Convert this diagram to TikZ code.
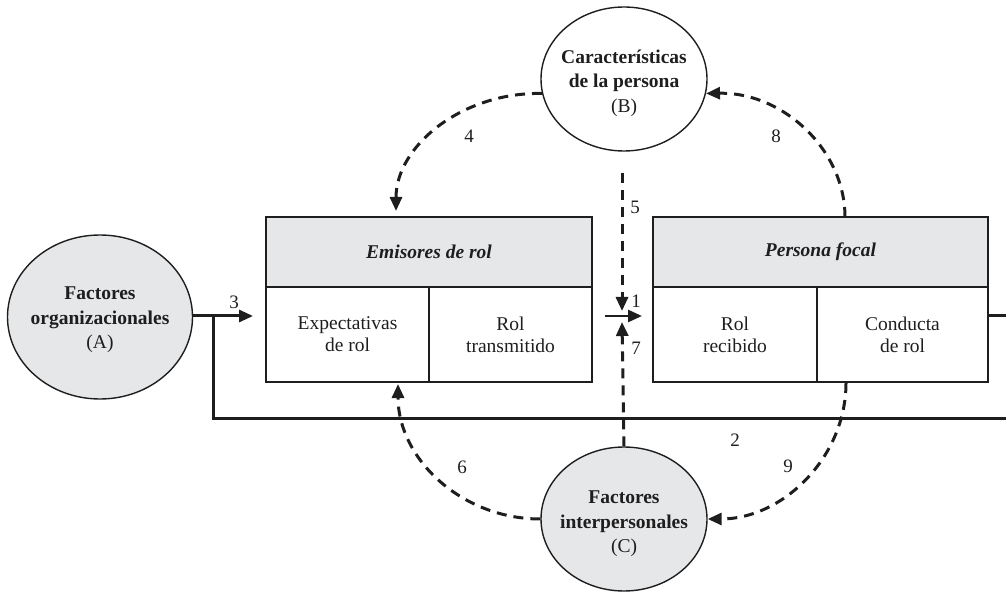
\documentclass[tikz,border=0pt]{standalone}
\usepackage{fontspec}
\setmainfont{Liberation Serif}
\usetikzlibrary{arrows.meta,shapes.geometric}
\definecolor{panel}{RGB}{230,231,233}
\definecolor{ink}{RGB}{30,30,30}
\begin{document}
\begin{tikzpicture}[x=1pt,y=-1pt,
  every node/.style={text=ink},
  oval/.style={ellipse,draw=ink,line width=1.4pt,inner sep=0pt,minimum width=166pt,minimum height=144pt},
  ovaltext/.style={align=center,font=\fontsize{19.5}{24.5}\selectfont},
  header/.style={rectangle,draw=ink,fill=panel,line width=2pt,minimum height=70pt,inner sep=0pt,
    font=\fontsize{19.5}{22}\selectfont\bfseries\itshape},
  cell/.style={rectangle,draw=ink,line width=2pt,minimum height=95pt,inner sep=0pt,align=center,
    font=\fontsize{19.5}{22}\selectfont},
  num/.style={font=\fontsize{19}{22}\selectfont,inner sep=0pt},
  tip/.style={-{Triangle[length=14pt,width=12pt]}},
  flow/.style={draw=ink,line width=3pt,tip},
  link/.style={draw=ink,line width=3pt},
  dflow/.style={draw=ink,line width=3pt,dash pattern=on 10pt off 7pt,tip}]
\useasboundingbox (0,0) rectangle (1006,601);

% the three factor groups
\node[oval,fill=panel,minimum width=185pt,minimum height=164pt] (A) at (100,317) {};
\node[ovaltext] (At) at (100,320) {\textbf{Factores}\\\textbf{organizacionales}\\(A)};
\node[oval,fill=white] (B) at (624,79) {};
\node[ovaltext] (Bt) at (624,83) {\textbf{Características}\\\textbf{de la persona}\\(B)};
\node[oval,fill=panel] (C) at (624,519) {};
\node[ovaltext] (Ct) at (624,524) {\textbf{Factores}\\\textbf{interpersonales}\\(C)};

% role senders
\node[header,minimum width=326pt] (E) at (429,252) {Emisores de rol};
\node[cell,minimum width=163pt] (E1) at (347.5,334.5) {Expectativas\\de rol};
\node[cell,minimum width=163pt] (E2) at (510.5,334.5) {Rol\\transmitido};

% focal person
\node[header,minimum width=335pt] (P) at (820.5,252) {Persona focal};
\node[cell,minimum width=164pt] (P1) at (735,334.5) {Rol\\recibido};
\node[cell,minimum width=171pt] (P2) at (902.5,334.5) {Conducta\\de rol};

% connector end points
\coordinate (a3) at (253,316);
\coordinate (j) at (213,316);
\coordinate (rA) at (1006,418);
\coordinate (p2r) at (988,316);
\coordinate (rB) at (1006,316);
\coordinate (s1) at (605,316);
\coordinate (t1) at (642,316);
\coordinate (s5) at (622,173);
\coordinate (t5) at (622,311);
\coordinate (t7) at (622,322);
\coordinate (t4) at (396,211);
\coordinate (s8) at (845,217);
\coordinate (t6) at (398,384);
\coordinate (s9) at (846,383);

% solid links
\draw[flow] (A.east |- j) -- (a3);
\draw[link] (j) |- (rA);
\draw[link] (p2r) -- (rB);
\draw[flow,line width=2.6pt] (s1) -- (t1);

% dashed influences
\draw[dflow] (s5) -- (t5);
\draw[dflow] (C.north) -- (t7);
\draw[dflow] (B.190) .. controls (462,92) and (396,146) .. (t4);
\draw[dflow] (s8) .. controls (845,150) and (783,92) .. (B.-10);
\draw[dflow] (C.west) .. controls (462,519) and (398,459) .. (t6);
\draw[dflow] (s9) .. controls (846,457) and (783,519) .. (C.east);

% numbers
\node[num] (n1) at (636,301) {1};
\node[num] (n2) at (735,440) {2};
\node[num] (n3) at (234,302) {3};
\node[num] (n4) at (469,136) {4};
\node[num] (n5) at (635,207) {5};
\node[num] (n6) at (462,467) {6};
\node[num] (n7) at (636,348) {7};
\node[num] (n8) at (776,136) {8};
\node[num] (n9) at (788,466) {9};
\end{tikzpicture}
\end{document}
